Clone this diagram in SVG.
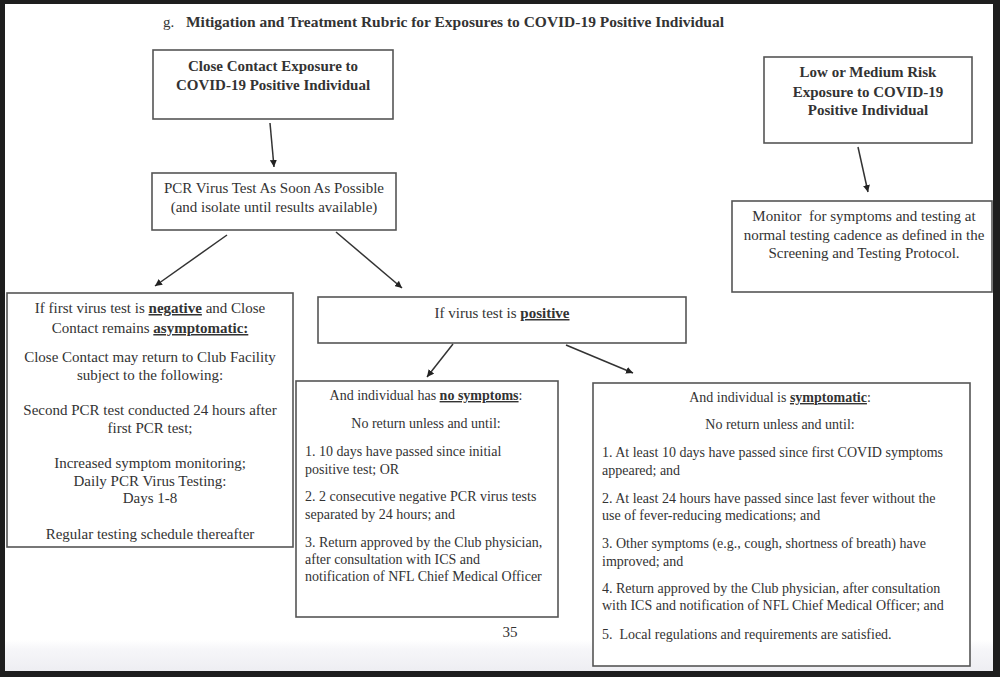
<svg xmlns="http://www.w3.org/2000/svg" width="1000" height="677" viewBox="0 0 1000 677">
<defs>
<linearGradient id="shade" x1="0" y1="0" x2="0" y2="1">
<stop offset="0" stop-color="#ffffff"/>
<stop offset="0.3" stop-color="#f6f6f9"/>
<stop offset="1" stop-color="#eeeef2"/>
</linearGradient>
<marker id="ah" viewBox="0 0 10 10" refX="10" refY="5" markerWidth="7" markerHeight="7" markerUnits="userSpaceOnUse" orient="auto">
<path d="M0,0 L10,5 L0,10 z" fill="#222"/>
</marker>
<style>
.box{fill:#fff;stroke:#555;stroke-width:1.6}
.t{font-family:"Liberation Serif","Times New Roman",serif;fill:#333;font-size:15px}
.s{font-size:14px}
.c{text-anchor:middle}
.b{font-weight:bold}
.u{font-weight:bold;text-decoration:underline}
.pre{white-space:pre}
.ln{stroke:#333;stroke-width:1.5;fill:none;marker-end:url(#ah)}
</style>
</defs>
<rect x="0" y="0" width="1000" height="677" fill="#1e1e1e"/>
<rect x="5" y="4" width="988" height="667" fill="#fff"/>
<rect x="5" y="640" width="988" height="31" fill="url(#shade)"/>

<text class="t b" x="163" y="27" font-size="14.5"><tspan font-weight="normal">g.</tspan><tspan x="186" textLength="538" lengthAdjust="spacingAndGlyphs">Mitigation and Treatment Rubric for Exposures to COVID-19 Positive Individual</tspan></text>

<g id="close-contact">
<rect class="box" x="153" y="50" width="240" height="69"/>
<text class="t b c" x="273" y="71" font-size="15.5">Close Contact Exposure to</text>
<text class="t b c" x="273" y="90" font-size="15.5">COVID-19 Positive Individual</text>
</g>

<g id="pcr-test">
<rect class="box" x="152" y="173" width="244" height="57"/>
<text class="t c" x="274" y="193" font-size="15.5">PCR Virus Test As Soon As Possible</text>
<text class="t c" x="274" y="212" font-size="15.5">(and isolate until results available)</text>
</g>

<g id="low-medium">
<rect class="box" x="764" y="57" width="208" height="86"/>
<text class="t b c" x="868" y="77">Low or Medium Risk</text>
<text class="t b c" x="868" y="97">Exposure to COVID-19</text>
<text class="t b c" x="868" y="115">Positive Individual</text>
</g>

<g id="monitor">
<rect class="box" x="732" y="201" width="260" height="91"/>
<text class="t c pre" x="864" y="221">Monitor  for symptoms and testing at</text>
<text class="t c" x="864" y="240">normal testing cadence as defined in the</text>
<text class="t c" x="864" y="258">Screening and Testing Protocol.</text>
</g>

<g id="negative">
<rect class="box" x="7" y="293" width="286" height="254"/>
<text class="t c" x="150" y="313">If first virus test is <tspan class="u">negative</tspan> and Close</text>
<text class="t c" x="150" y="333">Contact remains <tspan class="u">asymptomatic:</tspan></text>
<text class="t c" x="150" y="362">Close Contact may return to Club Facility</text>
<text class="t c" x="150" y="380">subject to the following:</text>
<text class="t c" x="150" y="415">Second PCR test conducted 24 hours after</text>
<text class="t c" x="150" y="433">first PCR test;</text>
<text class="t c" x="150" y="468">Increased symptom monitoring;</text>
<text class="t c" x="150" y="486">Daily PCR Virus Testing:</text>
<text class="t c" x="150" y="503">Days 1-8</text>
<text class="t c" x="150" y="539">Regular testing schedule thereafter</text>
</g>

<g id="positive">
<rect class="box" x="318" y="297" width="368" height="46"/>
<text class="t c" x="502" y="318">If virus test is <tspan class="u">positive</tspan></text>
</g>

<g id="no-symptoms">
<rect class="box" x="296" y="381" width="262" height="236"/>
<text class="t s c" x="426" y="400">And individual has <tspan class="u">no symptoms</tspan>:</text>
<text class="t s c" x="426" y="428">No return unless and until:</text>
<text class="t s" x="305" y="456">1. 10 days have passed since initial</text>
<text class="t s" x="305" y="474">positive test; OR</text>
<text class="t s" x="305" y="501">2. 2 consecutive negative PCR virus tests</text>
<text class="t s" x="305" y="519">separated by 24 hours; and</text>
<text class="t s" x="305" y="547">3. Return approved by the Club physician,</text>
<text class="t s" x="305" y="564">after consultation with ICS and</text>
<text class="t s" x="305" y="581">notification of NFL Chief Medical Officer</text>
</g>

<g id="symptomatic">
<rect class="box" x="593" y="383" width="377" height="283"/>
<text class="t s c" x="780" y="402">And individual is <tspan class="u">symptomatic</tspan>:</text>
<text class="t s c" x="780" y="429">No return unless and until:</text>
<text class="t s" x="602" y="457">1. At least 10 days have passed since first COVID symptoms</text>
<text class="t s" x="602" y="475">appeared; and</text>
<text class="t s" x="602" y="503">2. At least 24 hours have passed since last fever without the</text>
<text class="t s" x="602" y="520">use of fever-reducing medications; and</text>
<text class="t s" x="602" y="548">3. Other symptoms (e.g., cough, shortness of breath) have</text>
<text class="t s" x="602" y="566">improved; and</text>
<text class="t s" x="602" y="593">4. Return approved by the Club physician, after consultation</text>
<text class="t s" x="602" y="610">with ICS and notification of NFL Chief Medical Officer; and</text>
<text class="t s pre" x="602" y="639">5.  Local regulations and requirements are satisfied.</text>
</g>

<text class="t c" x="510" y="637">35</text>

<g id="connectors">
<line class="ln" x1="270" y1="123" x2="274" y2="167"/>
<line class="ln" x1="858" y1="147" x2="868" y2="192"/>
<line class="ln" x1="227" y1="235" x2="155" y2="286"/>
<line class="ln" x1="336" y1="232" x2="402" y2="288"/>
<line class="ln" x1="453" y1="344" x2="427" y2="377"/>
<line class="ln" x1="566" y1="345" x2="633" y2="373"/>
</g>
</svg>
